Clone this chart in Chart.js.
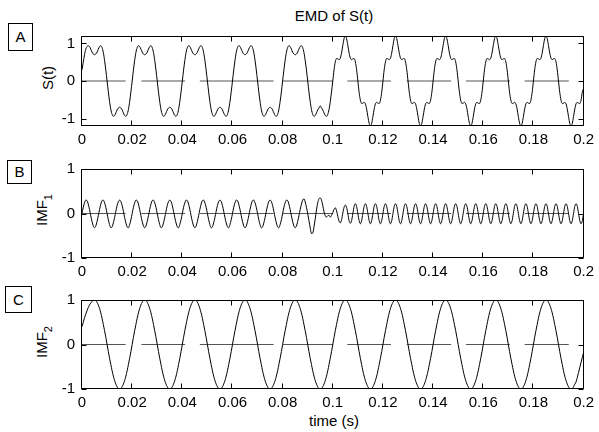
<!DOCTYPE html>
<html>
<head>
<meta charset="utf-8">
<script src="https://cdn.jsdelivr.net/npm/chart.js@4/dist/chart.umd.min.js"></script>
<style>
  html, body { margin: 0; padding: 0; background: #fff; }
  #fig { position: relative; width: 599px; height: 432px; overflow: hidden; background: #fff;
         font-family: 'Liberation Sans', Arial, sans-serif; font-size: 15px; color: #000; }
  #fig canvas { position: absolute; left: 0; }
  .lbl { position: absolute; white-space: nowrap; line-height: 15px; }
  .panel { position: absolute; border: 1px solid #000; box-sizing: border-box; text-align: center; }
  .ylab { position: absolute; white-space: nowrap; line-height: 15px; transform: translate(-50%, -50%) rotate(-90deg); }
  .ylab span { position: relative; top: 5px; font-size: 11px; }
</style>
</head>
<body>
<div id="fig">
  <div class="lbl" style="left:334px; top:8px; transform:translateX(-50%)">EMD of S(t)</div>

  <div class="panel" style="left:8px; top:23px; width:25px; height:28px; line-height:26px">A</div>
  <div class="panel" style="left:7px; top:160px; width:25px; height:24px; line-height:22px">B</div>
  <div class="panel" style="left:5px; top:286px; width:27px; height:27px; line-height:25px">C</div>

  <div class="ylab" style="left:47px; top:78px">S(t)</div>
  <div class="ylab" style="left:42px; top:210px">IMF<span>1</span></div>
  <div class="ylab" style="left:42px; top:342px">IMF<span>2</span></div>

  <div class="lbl" style="left:334px; top:413px; transform:translateX(-50%)">time (s)</div>

  <canvas id="chartA" width="599" height="132" style="top:20px"></canvas>
  <canvas id="chartB" width="599" height="131" style="top:153px"></canvas>
  <canvas id="chartC" width="599" height="131" style="top:284px"></canvas>
</div>
<script>
// samples every 0.5 ms, t = 0 .. 0.2 s
const SAMPLE_STEP = 0.0005;

const xTicks = [0, 0.02, 0.04, 0.06, 0.08, 0.1, 0.12, 0.14, 0.16, 0.18, 0.2];
const xTickLabels = ['0', '0.02', '0.04', '0.06', '0.08', '0.1', '0.12', '0.14', '0.16', '0.18', '0.2'];
const yTicks = [-1, 0, 1];
const yTickLabels = ['-1', '0', '1'];

// dashed zero line, start/end of each dash (s)
const zeroSegments = [
    [0, 0.0174], [0.0237, 0.0411], [0.0470, 0.0764], [0.0800, 0.1001],
    [0.1058, 0.1232], [0.1295, 0.1472], [0.1531, 0.1706], [0.1765, 0.1941],
];

// S(t)
const signalValues = [
    .3, .5, .7, .85, .92, .94, .92, .85, .77, .72, .70, .72, .77, .85, .92, .94, .89, .76, .55, .29, 0, -.29, -.55, -.76, -.89, -.94, -.92, -.85, -.77, -.72, -.70, -.72, -.77, -.85, -.92, -.94, -.89, -.76, -.55, -.29,
    0, .29, .55, .76, .89, .94, .92, .85, .77, .72, .70, .72, .77, .85, .92, .94, .89, .76, .55, .29, 0, -.29, -.55, -.76, -.89, -.94, -.92, -.85, -.77, -.72, -.70, -.72, -.77, -.85, -.92, -.94, -.89, -.76, -.55, -.29,
    0, .29, .55, .76, .89, .94, .92, .85, .77, .72, .70, .72, .77, .85, .92, .94, .89, .76, .55, .29, 0, -.29, -.55, -.76, -.89, -.94, -.92, -.85, -.77, -.72, -.70, -.72, -.77, -.85, -.92, -.94, -.89, -.76, -.55, -.29,
    0, .29, .55, .76, .89, .94, .92, .85, .77, .72, .70, .72, .77, .85, .92, .94, .89, .76, .55, .29, 0, -.29, -.55, -.76, -.89, -.94, -.92, -.85, -.77, -.72, -.70, -.72, -.77, -.85, -.92, -.94, -.89, -.76, -.55, -.29,
    0, .29, .55, .76, .89, .94, .92, .85, .77, .72, .70, .72, .77, .85, .92, .94, .89, .76, .55, .29, 0, -.29, -.55, -.76, -.89, -.94, -.92, -.85, -.77, -.72, -.66, -.72, -.77, -.85, -.92, -.94, -.89, -.76, -.55, -.29,
    0, .30, .51, .60, .59, .57, .61, .75, .95, 1.13, 1.20, 1.13, .95, .75, .61, .57, .59, .60, .51, .30, 0, -.30, -.51, -.60, -.59, -.57, -.61, -.75, -.95, -1.13, -1.20, -1.13, -.95, -.75, -.61, -.57, -.59, -.60, -.51, -.30,
    0, .30, .51, .60, .59, .57, .61, .75, .95, 1.13, 1.20, 1.13, .95, .75, .61, .57, .59, .60, .51, .30, 0, -.30, -.51, -.60, -.59, -.57, -.61, -.75, -.95, -1.13, -1.20, -1.13, -.95, -.75, -.61, -.57, -.59, -.60, -.51, -.30,
    0, .30, .51, .60, .59, .57, .61, .75, .95, 1.13, 1.20, 1.13, .95, .75, .61, .57, .59, .60, .51, .30, 0, -.30, -.51, -.60, -.59, -.57, -.61, -.75, -.95, -1.13, -1.20, -1.13, -.95, -.75, -.61, -.57, -.59, -.60, -.51, -.30,
    0, .30, .51, .60, .59, .57, .61, .75, .95, 1.13, 1.20, 1.13, .95, .75, .61, .57, .59, .60, .51, .30, 0, -.30, -.51, -.60, -.59, -.57, -.61, -.75, -.95, -1.13, -1.20, -1.13, -.95, -.75, -.61, -.57, -.59, -.60, -.51, -.30,
    0, .30, .51, .60, .59, .57, .61, .75, .95, 1.13, 1.20, 1.13, .95, .75, .61, .57, .59, .60, .51, .30, 0, -.30, -.51, -.60, -.59, -.57, -.61, -.75, -.95, -1.13, -1.20, -1.13, -.95, -.75, -.61, -.57, -.59, -.60, -.51, -.30,
    -.2,
];

// IMF 1
const imf1Values = [
    0, .14, .24, .30, .29, .21, .09, -.05, -.18, -.28, -.32, -.28, -.18, -.05, .09, .21, .29, .30, .24, .14, 0, -.14, -.25, -.32, -.30, -.21, -.09, .05, .18, .27, .30, .27, .18, .05, -.09, -.21, -.30, -.32, -.25, -.14,
    0, .14, .24, .30, .29, .21, .09, -.05, -.18, -.28, -.32, -.28, -.18, -.05, .09, .21, .29, .30, .24, .14, 0, -.14, -.25, -.32, -.30, -.21, -.09, .05, .18, .27, .30, .27, .18, .05, -.09, -.21, -.30, -.32, -.25, -.14,
    0, .14, .24, .30, .29, .21, .09, -.05, -.18, -.28, -.32, -.28, -.18, -.05, .09, .21, .29, .30, .24, .14, 0, -.14, -.25, -.32, -.30, -.21, -.09, .05, .18, .27, .30, .27, .18, .05, -.09, -.21, -.30, -.32, -.25, -.14,
    0, .14, .24, .30, .29, .21, .09, -.05, -.18, -.28, -.32, -.28, -.18, -.05, .09, .21, .29, .30, .24, .14, 0, -.14, -.25, -.32, -.30, -.21, -.09, .05, .18, .27, .30, .27, .18, .05, -.09, -.21, -.30, -.32, -.25, -.14,
    0, .14, .24, .30, .29, .21, .09, -.05, -.18, -.28, -.32, -.28, -.18, -.05, .09, .21, .30, .33, .26, .14, 0, -.16, -.32, -.45, -.44, -.30, -.12, .08, .24, .33, .35, .30, .18, .04, -.05, -.08, -.05, -.04, -.08, -.04,
    .02, .09, .13, .06, -.06, -.17, -.21, -.14, .01, .14, .19, .14, 0, -.16, -.22, -.16,
    0, .16, .22, .16, 0, -.16, -.23, -.16, 0, .16, .22, .16, 0, -.16, -.23, -.16, 0, .16, .22, .16, 0, -.16, -.23, -.16, 0, .16, .22, .16, 0, -.16, -.23, -.16,
    0, .16, .22, .16, 0, -.16, -.23, -.16, 0, .16, .22, .16, 0, -.16, -.23, -.16, 0, .16, .22, .16, 0, -.16, -.23, -.16, 0, .16, .22, .16, 0, -.16, -.23, -.16,
    0, .16, .22, .16, 0, -.16, -.23, -.16, 0, .16, .22, .16, 0, -.16, -.23, -.16, 0, .16, .22, .16, 0, -.16, -.23, -.16, 0, .16, .22, .16, 0, -.16, -.23, -.16,
    0, .16, .22, .16, 0, -.16, -.23, -.16, 0, .16, .22, .16, 0, -.16, -.23, -.16, 0, .16, .22, .16, 0, -.16, -.23, -.16, 0, .16, .22, .16, 0, -.16, -.23, -.16,
    0, .16, .22, .16, 0, -.16, -.23, -.16, 0, .16, .22, .16, 0, -.16, -.23, -.16, 0, .16, .22, .16, 0, -.16, -.23, -.16, 0, .16, .22, .16, 0, -.16, -.23, -.16,
    0, .16, .22, .16, 0, -.16, -.23, -.16, 0, .16, .22, .16, 0, -.16, -.23, -.16, 0, .16, .22, .16, 0, -.16, -.23, -.16,
    0,
];

// IMF 2
const imf2Values = [
    .40, .50, .60, .68, .76, .83, .89, .93, .97, .99, 1, .99, .95, .89, .81, .71, .59, .45, .31, .16, 0, -.16, -.31, -.45, -.59, -.71, -.81, -.89, -.95, -.99, -1, -.99, -.95, -.89, -.81, -.71, -.59, -.45, -.31, -.16,
    0, .16, .31, .45, .59, .71, .81, .89, .95, .99, 1, .99, .95, .89, .81, .71, .59, .45, .31, .16, 0, -.16, -.31, -.45, -.59, -.71, -.81, -.89, -.95, -.99, -1, -.99, -.95, -.89, -.81, -.71, -.59, -.45, -.31, -.16,
    0, .16, .31, .45, .59, .71, .81, .89, .95, .99, 1, .99, .95, .89, .81, .71, .59, .45, .31, .16, 0, -.16, -.31, -.45, -.59, -.71, -.81, -.89, -.95, -.99, -1, -.99, -.95, -.89, -.81, -.71, -.59, -.45, -.31, -.16,
    0, .16, .31, .45, .59, .71, .81, .89, .95, .99, 1, .99, .95, .89, .81, .71, .59, .45, .31, .16, 0, -.16, -.31, -.45, -.59, -.71, -.81, -.89, -.95, -.99, -1, -.99, -.95, -.89, -.81, -.71, -.59, -.45, -.31, -.16,
    0, .16, .31, .45, .59, .71, .81, .89, .95, .99, 1, .99, .95, .89, .81, .71, .59, .45, .31, .16, 0, -.16, -.31, -.45, -.59, -.71, -.81, -.89, -.95, -.99, -1, -.99, -.95, -.89, -.81, -.71, -.59, -.45, -.31, -.16,
    0, .16, .31, .45, .59, .71, .81, .89, .95, .99, 1, .99, .95, .89, .81, .71, .59, .45, .31, .16, 0, -.16, -.31, -.45, -.59, -.71, -.81, -.89, -.95, -.99, -1, -.99, -.95, -.89, -.81, -.71, -.59, -.45, -.31, -.16,
    0, .16, .31, .45, .59, .71, .81, .89, .95, .99, 1, .99, .95, .89, .81, .71, .59, .45, .31, .16, 0, -.16, -.31, -.45, -.59, -.71, -.81, -.89, -.95, -.99, -1, -.99, -.95, -.89, -.81, -.71, -.59, -.45, -.31, -.16,
    0, .16, .31, .45, .59, .71, .81, .89, .95, .99, 1, .99, .95, .89, .81, .71, .59, .45, .31, .16, 0, -.16, -.31, -.45, -.59, -.71, -.81, -.89, -.95, -.99, -1, -.99, -.95, -.89, -.81, -.71, -.59, -.45, -.31, -.16,
    0, .16, .31, .45, .59, .71, .81, .89, .95, .99, 1, .99, .95, .89, .81, .71, .59, .45, .31, .16, 0, -.16, -.31, -.45, -.59, -.71, -.81, -.89, -.95, -.99, -1, -.99, -.95, -.89, -.81, -.71, -.59, -.45, -.31, -.16,
    0, .16, .31, .45, .59, .71, .81, .89, .95, .99, 1, .99, .95, .89, .81, .71, .59, .45, .31, .16, 0, -.16, -.31, -.45, -.59, -.71, -.81, -.89, -.95, -.99, -1, -.99, -.95, -.89, -.84, -.74, -.63, -.51, -.40, -.29,
    -.18,
];

Chart.defaults.font.family = "'Liberation Sans', Arial, sans-serif";
Chart.defaults.font.size = 15;
Chart.defaults.color = '#000';

const toPoints = (values) => values.map((v, i) => ({ x: i * SAMPLE_STEP, y: v }));

const zeroLinePoints = () => zeroSegments.flatMap(([from, to]) => [
    { x: from, y: 0 },
    { x: to, y: 0 },
    { x: to, y: null },
]);

// box round the plot area and inward tick marks on all four sides
const frameTicks = {
    id: 'frameTicks',
    afterDraw(chart) {
        const { ctx, chartArea: area, scales: { x, y } } = chart;
        const left = Math.round(area.left) - 0.5;
        const right = Math.round(area.right) - 0.5;
        const top = Math.round(area.top) + 0.5;
        const bottom = Math.round(area.bottom) - 0.5;
        const len = 5;

        ctx.save();
        ctx.strokeStyle = '#000';
        ctx.lineWidth = 1;
        ctx.beginPath();
        ctx.rect(left, top, right - left, bottom - top);

        xTicks.forEach((v) => {
            const px = Math.round(x.getPixelForValue(v)) - 0.5;
            ctx.moveTo(px, bottom);
            ctx.lineTo(px, bottom - len);
            ctx.moveTo(px, top);
            ctx.lineTo(px, top + len);
        });

        yTicks.forEach((v) => {
            const py = Math.round(y.getPixelForValue(v)) + 0.5;
            ctx.moveTo(left, py);
            ctx.lineTo(left + len, py);
            ctx.moveTo(right, py);
            ctx.lineTo(right - len, py);
        });

        ctx.stroke();
        ctx.restore();
    },
};

const makePanel = (id, values, yMin, yMax) => new Chart(document.getElementById(id), {
    type: 'line',
    data: {
        datasets: [
            {
                data: toPoints(values),
                borderColor: '#000',
                borderWidth: 1,
                pointRadius: 0,
                cubicInterpolationMode: 'monotone',
            },
            {
                data: zeroLinePoints(),
                borderColor: '#555',
                borderWidth: 1,
                pointRadius: 0,
                spanGaps: false,
            },
        ],
    },
    options: {
        responsive: false,
        animation: false,
        events: [],
        layout: {
            autoPadding: false,
            padding: { top: 10, right: 12, bottom: 0, left: 0 },
        },
        plugins: {
            legend: { display: false },
            tooltip: { enabled: false },
        },
        scales: {
            x: {
                type: 'linear',
                min: 0,
                max: 0.2,
                grid: { display: false, drawTicks: false },
                border: { display: false },
                afterBuildTicks: (scale) => { scale.ticks = xTicks.map((v) => ({ value: v })); },
                afterFit: (scale) => { scale.height = 26; },
                ticks: {
                    padding: 5,
                    maxRotation: 0,
                    autoSkip: false,
                    callback: (value, index) => xTickLabels[index],
                },
            },
            y: {
                type: 'linear',
                min: yMin,
                max: yMax,
                grid: { display: false, drawTicks: false },
                border: { display: false },
                afterBuildTicks: (scale) => { scale.ticks = yTicks.map((v) => ({ value: v })); },
                afterFit: (scale) => { scale.width = 82; },
                ticks: {
                    padding: 7,
                    autoSkip: false,
                    callback: (value, index) => yTickLabels[index],
                },
            },
        },
    },
    plugins: [frameTicks],
});

makePanel('chartA', signalValues, -1.2, 1.2);
makePanel('chartB', imf1Values, -1, 1);
makePanel('chartC', imf2Values, -1, 1);
</script>
</body>
</html>
